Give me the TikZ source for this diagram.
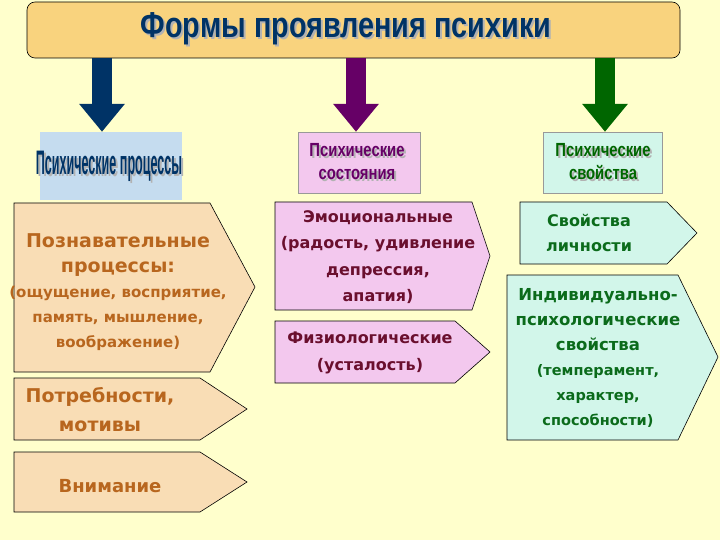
\documentclass[tikz,border=0pt]{standalone}
\usepackage{fontspec}
\setmainfont{Liberation Sans}
\newfontfamily\bx{DejaVu Sans}
\usetikzlibrary{arrows.meta}
\definecolor{bg}{HTML}{FFFFCC}
\definecolor{ttl}{HTML}{F9D37E}
\definecolor{tan}{HTML}{F9DDB5}
\definecolor{pnk}{HTML}{F3C8EE}
\definecolor{cyn}{HTML}{D2F6EA}
\definecolor{lblue}{HTML}{C5DCEF}
\definecolor{dblue}{HTML}{003366}
\definecolor{dpur}{HTML}{660066}
\definecolor{dgrn}{HTML}{006600}
\definecolor{brn}{HTML}{B8661E}
\definecolor{wine}{HTML}{6A0F2E}
\definecolor{tgrn}{HTML}{0B6B1B}
\tikzset{
  shp/.style={draw=black,line width=0.6pt},
  txt/.style={align=center,font=\bfseries,inner sep=0pt},
  bigarrow/.style={line width=20pt,-{Triangle[length=28pt,width=44pt]}},
}
\newcommand{\shadowtxt}[4]{% name, pos, color, text
  \node[txt,text=gray!60,xshift=2pt,yshift=-2pt] at (#2) {#4};
  \node[txt,text=#3] (#1) at (#2) {#4};}
\begin{document}
\begin{tikzpicture}[x=1pt,y=-1pt]
\fill[bg] (0,0) rectangle (720,540);
\useasboundingbox (0,0) rectangle (720,540);
% title
\node[shp,fill=ttl,rounded corners=8pt,minimum width=653pt,minimum height=56pt,inner sep=0pt] (title) at (353.5,30) {};
\shadowtxt{titletext}{346,29}{dblue}{\fontsize{36}{38}\selectfont\scalebox{0.8}[1]{Формы проявления психики}}
% headers
\node[fill=lblue,inner sep=0pt,minimum width=142pt,minimum height=68pt] (h1) at (111,166) {};
\shadowtxt{h1t}{109,166}{dblue}{\fontsize{34}{36}\selectfont\scalebox{0.37}[1]{Психические процессы}}
\node[draw=black!40,fill=pnk,inner sep=0pt,minimum width=122pt,minimum height=61pt] (h2) at (359,162.5) {};
\shadowtxt{h2t}{357,163}{dpur}{\fontsize{19}{23}\selectfont\scalebox{0.78}[1]{\begin{tabular}{c}Психические\\состояния\end{tabular}}}
\node[draw=black!40,fill=cyn,inner sep=0pt,minimum width=119pt,minimum height=61pt] (h3) at (602.5,162.5) {};
\shadowtxt{h3t}{603,163}{dgrn}{\fontsize{19}{23}\selectfont\scalebox{0.78}[1]{\begin{tabular}{c}Психические\\свойства\end{tabular}}}
% arrows
\draw[bigarrow,dblue] (title.south -| 102,0) -- (h1.north -| 102,0);
\draw[bigarrow,dpur] (title.south -| 356,0) -- (h2.north -| 356,0);
\draw[bigarrow,dgrn] (title.south -| 605,0) -- (h3.north -| 605,0);
% left column
\draw[shp,fill=tan] (14,203) -- (210,203) -- (255,287) -- (210,372) -- (14,372) -- cycle;
\node[txt,text=brn,font=\bx\bfseries\fontsize{19}{25}\selectfont] (l1) at (118,292) {Познавательные\\процессы:\\
 {\fontsize{15}{24}\selectfont (ощущение, восприятие,}\\{\fontsize{15}{24}\selectfont память, мышление,}\\{\fontsize{15}{24}\selectfont воображение)}};
\draw[shp,fill=tan] (14,378) -- (200,378) -- (247,409) -- (200,440) -- (14,440) -- cycle;
\node[txt,text=brn,font=\bx\bfseries\fontsize{19}{29}\selectfont] (l2) at (100,410) {Потребности,\\мотивы};
\draw[shp,fill=tan] (14,452) -- (200,452) -- (247,482) -- (200,512) -- (14,512) -- cycle;
\node[txt,text=brn,font=\bx\bfseries\fontsize{18}{20}\selectfont] (l3) at (110,486) {Внимание};
% middle column
\draw[shp,fill=pnk] (275,202) -- (472,202) -- (490,256) -- (472,310) -- (275,310) -- cycle;
\node[txt,text=wine,font=\bx\bfseries\fontsize{16}{26.5}\selectfont] (m1) at (378,257) {Эмоциональные\\(радость, удивление\\депрессия,\\апатия)};
\draw[shp,fill=pnk] (275,321) -- (455,321) -- (490,352) -- (455,383) -- (275,383) -- cycle;
\node[txt,text=wine,font=\bx\bfseries\fontsize{16}{27}\selectfont] (m2) at (370,353) {Физиологические\\(усталость)};
% right column
\draw[shp,fill=cyn] (520,202) -- (667,202) -- (697,233) -- (667,264) -- (520,264) -- cycle;
\node[txt,text=tgrn,font=\bx\bfseries\fontsize{16}{25}\selectfont] (r1) at (589,233) {Свойства\\личности};
\draw[shp,fill=cyn] (507,275) -- (678,275) -- (718,357) -- (678,440) -- (507,440) -- cycle;
\node[txt,text=tgrn,font=\bx\bfseries\fontsize{16.5}{25}\selectfont] (r2) at (598,358) {Индивидуально-\\психологические\\свойства\\
 {\fontsize{14.5}{25}\selectfont (темперамент,}\\{\fontsize{14.5}{25}\selectfont характер,}\\{\fontsize{14.5}{25}\selectfont способности)}};
\end{tikzpicture}
\end{document}
